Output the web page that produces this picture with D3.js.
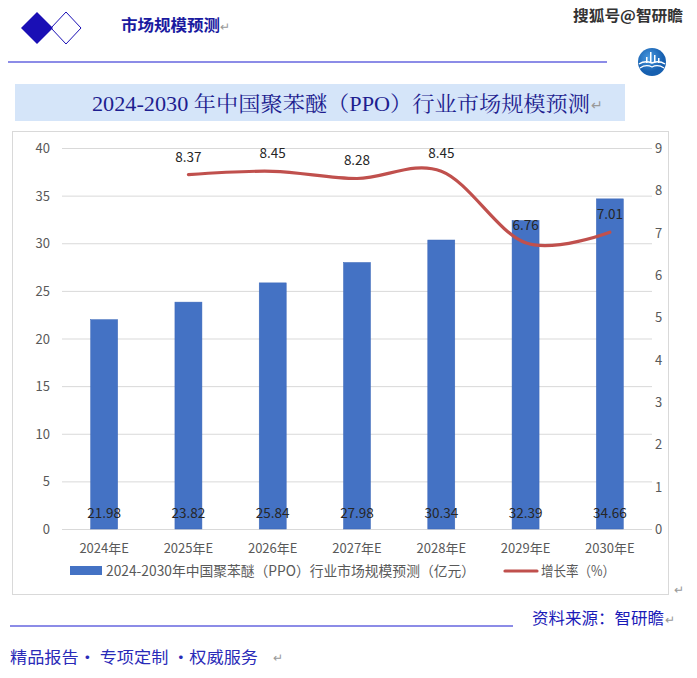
<!DOCTYPE html>
<html><head><meta charset="utf-8">
<script src="https://cdn.jsdelivr.net/npm/d3@7"></script>
<style>body{margin:0;background:#fff;}svg{display:block;}</style>
</head><body>
<script>
const categories = ["2024年E","2025年E","2026年E","2027年E","2028年E","2029年E","2030年E"];
const marketSize = [21.98,23.82,25.84,27.98,30.34,32.39,34.66];
const growthRate = [null,8.37,8.45,8.28,8.45,6.76,7.01];
const leftTicks = [0,5,10,15,20,25,30,35,40];
const rightTicks = [0,1,2,3,4,5,6,7,8,9];
const barName = "2024-2030年中国聚苯醚（PPO）行业市场规模预测（亿元）";
const lineName = "增长率（%）";
const title = "2024-2030 年中国聚苯醚（PPO）行业市场规模预测";

const W=697,H=678;
const svg=d3.select("body").append("svg").attr("width",W).attr("height",H);
const sans="'Microsoft YaHei','Noto Sans CJK SC',sans-serif";
const cjk="'Noto Sans CJK SC',sans-serif";
function fit(sel,len){return sel.attr("textLength",len).attr("lengthAdjust","spacingAndGlyphs");}

// header
const dm=svg.append("g");
dm.append("path").attr("d","M37,12 L53,28 L37,44 L21,28 Z").attr("fill","#1a0fb5");
dm.append("path").attr("d","M66,12 L81,28 L66,44 L51,28 Z").attr("fill","none").attr("stroke","#1a0fb5").attr("stroke-width",1);
fit(svg.append("text").attr("x",121).attr("y",31).attr("font-family",cjk).attr("font-weight","bold").attr("font-size",16).attr("fill","#1a1aa0").text("市场规模预测"),99);
svg.append("text").attr("x",220).attr("y",31).attr("font-family",sans).attr("font-size",12).attr("fill","#999").text("↵");
fit(svg.append("text").attr("x",573).attr("y",21).attr("font-family",cjk).attr("font-weight","bold").attr("font-size",15).attr("fill","#333").text("搜狐号@智研瞻"),110);
svg.append("line").attr("x1",8).attr("x2",607).attr("y1",62).attr("y2",62).attr("stroke","#1a1ad0").attr("stroke-width",1.2);
// logo
const lg=svg.append("g");
const grad=svg.append("defs").append("radialGradient").attr("id","lg").attr("cx","40%").attr("cy","35%");
grad.append("stop").attr("offset","0%").attr("stop-color","#4a9ae0");
grad.append("stop").attr("offset","100%").attr("stop-color","#1760b0");
lg.append("circle").attr("cx",652).attr("cy",62).attr("r",14).attr("fill","url(#lg)");
lg.append("path").attr("d","M639,64 Q645,60 652,63 Q659,60 665,64").attr("fill","none").attr("stroke","#fff").attr("stroke-width",1.5);
lg.append("path").attr("d","M640,68 Q646,64 652,67 Q658,64 664,68").attr("fill","none").attr("stroke","#fff").attr("stroke-width",1.2);
[[646,57,6],[650,52,11],[654,55,8],[658,58,5]].forEach(d=>lg.append("rect").attr("x",d[0]).attr("y",d[1]).attr("width",1.5).attr("height",d[2]).attr("fill","#fff"));

// title box
svg.append("rect").attr("x",15).attr("y",84).attr("width",610).attr("height",37).attr("fill","#d5e5f9");
fit(svg.append("text").attr("x",92).attr("y",111).attr("font-family","'Liberation Serif','Noto Serif CJK SC','Noto Sans CJK SC',serif").attr("font-size",21).attr("fill","#1e1e90").text(title),498);
svg.append("text").attr("x",591).attr("y",110).attr("font-family",sans).attr("font-size",14).attr("fill","#999").text("↵");

// chart frame
svg.append("rect").attr("x",12.5).attr("y",131.5).attr("width",656).attr("height",463).attr("fill","#fff").attr("stroke","#d9d9d9");
svg.append("text").attr("x",674).attr("y",594).attr("font-family",sans).attr("font-size",12).attr("fill","#999").text("↵");

const L=62,R=652,T=148,B=529;
const x=d3.scaleBand().domain(categories).range([L,R]);
const yL=d3.scaleLinear().domain([0,40]).range([B,T]);
const yR=d3.scaleLinear().domain([0,9]).range([B,T]);

svg.append("g").selectAll("line").data(leftTicks).join("line")
 .attr("x1",L).attr("x2",R).attr("y1",d=>yL(d)+0.5).attr("y2",d=>yL(d)+0.5)
 .attr("stroke","#d9d9d9").attr("stroke-width",1);

const axFont={"font-family":sans,"font-size":13,"fill":"#595959"};
function applyAttrs(sel,o){for(const k in o)sel.attr(k,o[k]);return sel;}
applyAttrs(svg.append("g").selectAll("text").data(leftTicks).join("text")
 .attr("x",50).attr("y",d=>yL(d)+5).attr("text-anchor","end").text(d=>d),axFont);
applyAttrs(svg.append("g").selectAll("text").data(rightTicks).join("text")
 .attr("x",655).attr("y",d=>yR(d)+5).attr("text-anchor","start").text(d=>d),axFont);

const bw=27;
svg.append("g").selectAll("rect").data(categories).join("rect")
 .attr("x",(d)=>x(d)+x.bandwidth()/2-bw/2).attr("width",bw)
 .attr("y",(d,i)=>yL(marketSize[i])).attr("height",(d,i)=>B-yL(marketSize[i]))
 .attr("fill","#4472c4").attr("stroke","#3a66b8").attr("stroke-width",0.5);

svg.append("g").selectAll("text").data(categories).join("text")
 .attr("x",d=>x(d)+x.bandwidth()/2).attr("y",518).attr("text-anchor","middle")
 .attr("font-family",sans).attr("font-size",13.5).attr("fill","#262626")
 .text((d,i)=>marketSize[i].toFixed(2));

applyAttrs(svg.append("g").selectAll("text").data(categories).join("text")
 .attr("x",d=>x(d)+x.bandwidth()/2).attr("y",553).attr("text-anchor","middle").text(d=>d),axFont);

const pts=categories.map((c,i)=>({c,v:growthRate[i]})).filter(d=>d.v!=null);
const line=d3.line().x(d=>x(d.c)+x.bandwidth()/2).y(d=>yR(d.v)).curve(d3.curveCatmullRom.alpha(0));
svg.append("path").datum(pts).attr("d",line).attr("fill","none").attr("stroke","#c0504d").attr("stroke-width",3.2).attr("stroke-linecap","round");
svg.append("g").selectAll("text").data(pts).join("text")
 .attr("x",d=>x(d.c)+x.bandwidth()/2).attr("y",d=>yR(d.v)-13).attr("text-anchor","middle")
 .attr("font-family",sans).attr("font-size",13.5).attr("fill","#262626").text(d=>d.v.toFixed(2));

// legend
svg.append("rect").attr("x",70).attr("y",566).attr("width",32).attr("height",9).attr("fill","#4472c4");
fit(applyAttrs(svg.append("text").attr("x",106).attr("y",576).text(barName),axFont).attr("font-size",14),369);
svg.append("line").attr("x1",505).attr("x2",537).attr("y1",571).attr("y2",571).attr("stroke","#c0504d").attr("stroke-width",3.2).attr("stroke-linecap","round");
fit(applyAttrs(svg.append("text").attr("x",541).attr("y",576).text(lineName),axFont).attr("font-size",14),74);

// footer
svg.append("line").attr("x1",10).attr("x2",513).attr("y1",626).attr("y2",626).attr("stroke","#1a1ad0").attr("stroke-width",1.2);
fit(svg.append("text").attr("x",532).attr("y",624).attr("font-family",cjk).attr("font-size",16).attr("fill","#1a1ab8").text("资料来源：智研瞻"),132);
svg.append("text").attr("x",665).attr("y",624).attr("font-family",sans).attr("font-size",12).attr("fill","#999").text("↵");
fit(svg.append("text").attr("x",10).attr("y",663).attr("font-family",cjk).attr("font-size",16).attr("fill","#2a2ab8").text("精品报告·  专项定制 ·权威服务"),248);
svg.append("text").attr("x",273).attr("y",662).attr("font-family",sans).attr("font-size",12).attr("fill","#999").text("↵");
</script>
</body></html>
